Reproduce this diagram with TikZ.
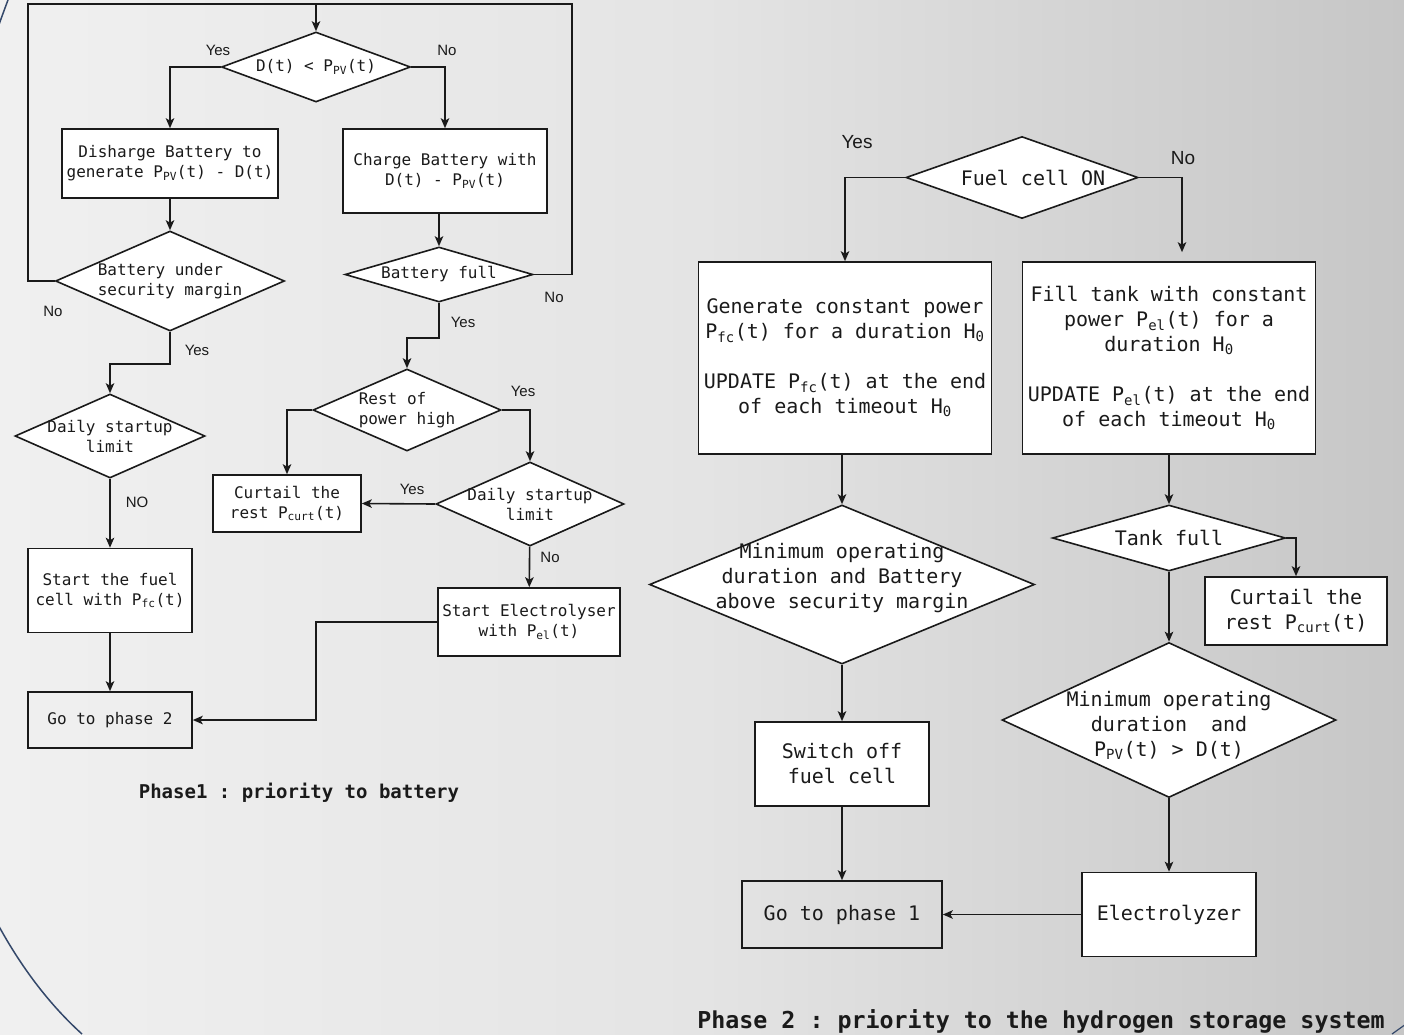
\documentclass[tikz,border=0pt]{standalone}
\usepackage{fontspec}
\setmonofont{DejaVu Sans Mono}
\setsansfont{Liberation Sans}
\usetikzlibrary{shapes.geometric,arrows.meta}
\definecolor{bgleft}{HTML}{F0F0F0}
\definecolor{bgmid}{HTML}{E4E4E4}
\definecolor{bgright}{HTML}{C6C6C6}
\definecolor{arcblue}{HTML}{34486A}
\definecolor{ink}{HTML}{1A1A1A}

\begin{document}
\begin{tikzpicture}[x=1pt,y=-1pt,line width=1.6pt,color=ink,
    >={Stealth[length=10pt,width=8.5pt,inset=2.5pt]},
    p1/.style={font=\fontsize{16}{20}\selectfont\ttfamily},
    p2/.style={font=\fontsize{20}{25}\selectfont\ttfamily},
    box/.style={draw,fill=white,align=center,inner sep=2pt},
    decision/.style={diamond,draw,fill=white,inner sep=0pt},
    wh/.style 2 args={minimum width=#1pt,minimum height=#2pt},
    lblA/.style={font=\fontsize{15}{18}\selectfont\sffamily},
    lblB/.style={font=\fontsize{19}{22}\selectfont\sffamily},
    arr/.style={->}]
    % background
    \useasboundingbox (0,0) rectangle (1404,1034);
    \shade[left color=bgleft,right color=bgright,middle color=bgmid] (0,0) rectangle (1404,1034);
    \begin{scope}
        \clip (0,0) rectangle (1404,1034);
        \draw[arcblue,line width=1.5pt] (8,0) .. controls (-150,420) and (-110,860) .. (82,1034);
        \draw[arcblue,line width=1.2pt] (1392,1034) -- (1420,1014);
    \end{scope}

    % phase 1
    \node[decision,wh={189}{70},label={[p1]center:D(t) < P\textsubscript{PV}(t)}] (d1) at (316,67) {};
    \node[box,p1,wh={216}{69}] (b1) at (170,163.5) {Disharge Battery to\\generate P\textsubscript{PV}(t) - D(t)};
    \node[box,p1,wh={204}{84}] (b2) at (445,171) {Charge Battery with\\D(t) - P\textsubscript{PV}(t)};
    \node[decision,wh={229}{100},label={[p1,align=left]center:Battery under\\security margin}] (d2) at (170,281) {};
    \node[decision,wh={188}{55},label={[p1]center:Battery full}] (d3) at (439,274.5) {};
    \node[decision,wh={188}{82},label={[p1,align=left]center:Rest of\\power high}] (d4) at (407,410) {};
    \node[box,p1,wh={148}{57}] (c1) at (287,503.5) {Curtail the\\rest P\textsubscript{curt}(t)};
    \node[decision,wh={188}{84},label={[p1,align=center]center:Daily startup\\limit}] (d5) at (530,504) {};
    \node[box,p1,wh={182}{68}] (e1) at (529,622) {Start Electrolyser\\with P\textsubscript{el}(t)};
    \node[decision,wh={190}{84},label={[p1,align=center]center:Daily startup\\limit}] (d6) at (110,436) {};
    \node[box,p1,wh={164}{84}] (s1) at (110,590.5) {Start the fuel\\cell with P\textsubscript{fc}(t)};
    \node[box,p1,fill=none,wh={164}{56}] (g2) at (110,720) {Go to phase 2};
    \node[font=\fontsize{19}{23}\selectfont\ttfamily\bfseries] (t1) at (299,793) {Phase1 : priority to battery};

    \coordinate (tl) at (28,4);
    \coordinate (tm) at (316,4);
    \coordinate (tr) at (572,4);
    \coordinate (j1) at (439,338);
    \coordinate (j2) at (170,364);
    \coordinate (j3) at (316,720);
    \draw (d2.west) -| (tl) -- (tr) |- (d3.east);
    \draw[arr] (tm) -- (d1.north);
    \draw[arr] (d1.west) -| (b1.north);
    \draw[arr] (d1.east) -| (b2.north);
    \draw[arr] (b1) -- (d2);
    \draw[arr] (d3.north |- b2.south) -- (d3.north);
    \draw[arr] (d3.south) -- (j1) -| (d4.north);
    \draw[arr] (d4.west) -| (c1.north);
    \draw[arr] (d4.east) -| (d5.north);
    \draw[arr] (d5.west) -- (c1.east);
    \draw[arr] (d5) -- (e1);
    \draw[arr] (d2.south) -- (j2) -| (d6.north);
    \draw[arr] (d6) -- (s1);
    \draw[arr] (s1) -- (g2);
    \draw[arr] (e1.west) -| (j3) -- (g2.east);

    \node[lblA] (y1) at (218,50) {Yes};
    \node[lblA] (n1) at (447,50) {No};
    \node[lblA] (n2) at (53,311) {No};
    \node[lblA] (n3) at (554,297) {No};
    \node[lblA] (y2) at (463,322) {Yes};
    \node[lblA] (y3) at (197,350) {Yes};
    \node[lblA] (y4) at (523,391) {Yes};
    \node[lblA] (y5) at (412,489) {Yes};
    \node[lblA] (n4) at (137,502) {NO};
    \node[lblA] (n5) at (550,557) {No};

    % phase 2
    \node[decision,wh={232}{82},label={[p2,xshift=11pt]center:Fuel cell ON}] (f1) at (1022,177.5) {};
    \node[box,p2,wh={293}{192}] (ba) at (845,358) {Generate constant power\\P\textsubscript{fc}(t) for a duration H\textsubscript{0}\\[25pt]UPDATE P\textsubscript{fc}(t) at the end\\of each timeout H\textsubscript{0}};
    \node[box,p2,wh={293}{192}] (bb) at (1169,358) {Fill tank with constant\\power P\textsubscript{el}(t) for a\\duration H\textsubscript{0}\\[25pt]UPDATE P\textsubscript{el}(t) at the end\\of each timeout H\textsubscript{0}};
    \node[decision,wh={385}{159},label={[p2,align=center,yshift=6pt]center:Minimum operating\\duration and Battery\\above security margin}] (m1) at (842,584.5) {};
    \node[box,p2,wh={174}{84}] (sw) at (842,764) {Switch off\\fuel cell};
    \node[box,p2,fill=none,wh={200}{67}] (g1) at (842,914.5) {Go to phase 1};
    \node[decision,wh={233}{66},label={[p2]center:Tank full}] (tk) at (1169,538) {};
    \node[box,p2,wh={182}{68}] (c2) at (1296,611) {Curtail the\\rest P\textsubscript{curt}(t)};
    \node[decision,wh={334}{155},label={[p2,align=center,yshift=-5pt]center:Minimum operating\\duration\ \ and\\P\textsubscript{PV}(t) > D(t)}] (m2) at (1169,720) {};
    \node[box,p2,wh={174}{84}] (el) at (1169,914.5) {Electrolyzer};
    \node[font=\fontsize{23.3}{28}\selectfont\ttfamily\bfseries] (t2) at (1041,1021) {Phase 2 : priority to the hydrogen storage system};

    \draw[arr] (f1.west) -| (ba.north);
    \draw[arr,shorten >=9pt] (f1.east) -| ([xshift=13pt]bb.north);
    \draw[arr] (m1.north |- ba.south) -- (m1.north);
    \draw[arr] (m1) -- (sw);
    \draw[arr] (sw) -- (g1);
    \draw[arr] (bb) -- (tk);
    \draw[arr] (tk.east) -| (c2.north);
    \draw[arr] (tk) -- (m2);
    \draw[arr] (m2) -- (el);
    \draw[arr] (el) -- (g1);

    \node[lblB] (y6) at (857,142) {Yes};
    \node[lblB] (n6) at (1183,158) {No};
\end{tikzpicture}
\end{document}
